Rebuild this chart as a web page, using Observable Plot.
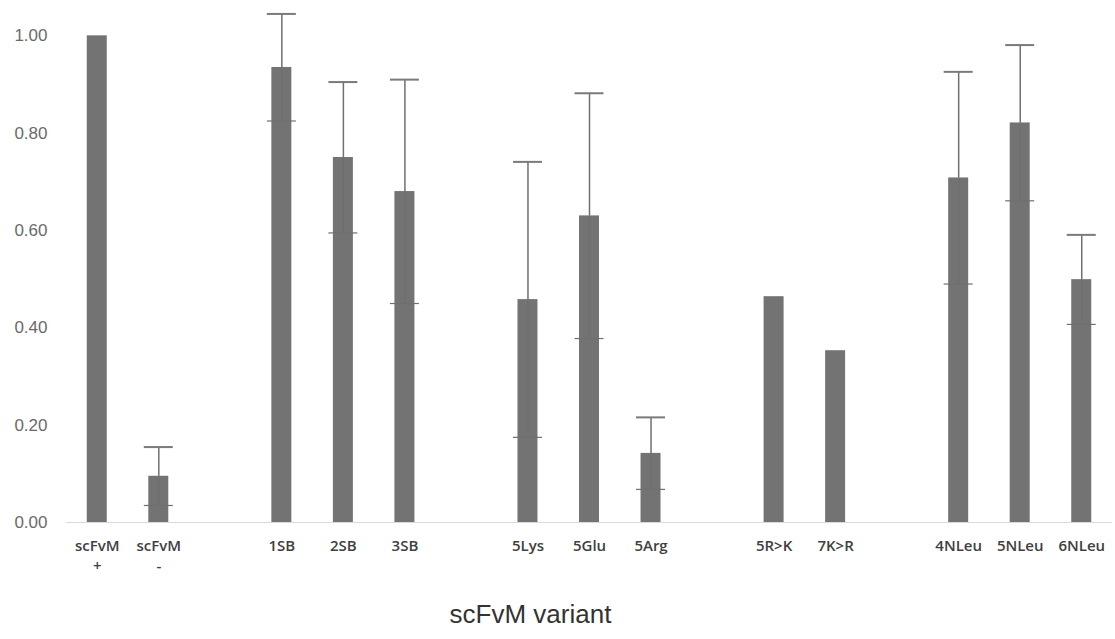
<!DOCTYPE html>
<html>
<head>
<meta charset="utf-8">
<script src="https://cdn.jsdelivr.net/npm/d3@7"></script>
<script src="https://cdn.jsdelivr.net/npm/@observablehq/plot@0.6"></script>
<style>
  html, body { margin: 0; padding: 0; background: #fff; }
</style>
</head>
<body>
<div id="chart"></div>
<script>
// Category slots (blank slots are the gaps between groups)
const slots = ["scFvM+", "scFvM-", "gap1", "1SB", "2SB", "3SB", "gap2", "5Lys", "5Glu", "5Arg", "gap3", "5R>K", "7K>R", "gap4", "4NLeu", "5NLeu", "6NLeu"];
const tickLabels = {"scFvM+": "scFvM\n+", "scFvM-": "scFvM\n-", "1SB": "1SB", "2SB": "2SB", "3SB": "3SB", "5Lys": "5Lys", "5Glu": "5Glu", "5Arg": "5Arg", "5R>K": "5R>K", "7K>R": "7K>R", "4NLeu": "4NLeu", "5NLeu": "5NLeu", "6NLeu": "6NLeu"};
const variants = ["scFvM+", "scFvM-", "1SB", "2SB", "3SB", "5Lys", "5Glu", "5Arg", "5R>K", "7K>R", "4NLeu", "5NLeu", "6NLeu"];
const means =    [1.00, 0.095, 0.935, 0.750, 0.680, 0.458, 0.630, 0.142, 0.464, 0.353, 0.708, 0.821, 0.499];
const errors =   [0.00, 0.060, 0.110, 0.155, 0.230, 0.283, 0.252, 0.074, 0.000, 0.000, 0.218, 0.160, 0.092];
const yTicks = [0, 0.2, 0.4, 0.6, 0.8, 1.0];

const data = variants.map((v, i) => ({variant: v, mean: means[i], err: errors[i]}));
const errData = data.filter(d => d.err > 0);

const chart = Plot.plot({
  width: 1115,
  height: 639,
  marginLeft: 66,
  marginRight: 3,
  marginTop: 11,
  marginBottom: 117,
  style: {fontFamily: "'Liberation Sans', Arial, sans-serif", background: "#fff"},
  x: {domain: slots, paddingInner: 0.675, paddingOuter: 0.3375, align: 0.5, round: false},
  y: {domain: [0, 1.05]},
  marks: [
    Plot.ruleY([0], {stroke: "#d9d9d9", strokeWidth: 1}),
    Plot.barY(data, {x: "variant", y: "mean", fill: "#737373"}),
    Plot.ruleX(errData, {x: "variant", y1: d => d.mean - d.err, y2: d => d.mean, stroke: "#6f6f6f", strokeWidth: 1.2}),
    Plot.ruleX(errData, {x: "variant", y1: d => d.mean, y2: d => d.mean + d.err, stroke: "#707070", strokeWidth: 1.5}),
    Plot.tickY(errData, {x: "variant", y: d => d.mean + d.err, stroke: "#7a7a7a", strokeWidth: 2, insetLeft: 24.5, insetRight: 24.5}),
    Plot.tickY(errData, {x: "variant", y: d => d.mean - d.err, stroke: "#6f6f6f", strokeWidth: 1.2, insetLeft: 24.5, insetRight: 24.5}),
    Plot.axisY({ticks: yTicks, tickFormat: d3.format(".2f"), tickSize: 0, tickPadding: 19, fontSize: 17, fill: "#6a6a6a", label: null}),
    Plot.axisX({tickFormat: d => tickLabels[d] || "", tickSize: 0, tickPadding: 15, fontSize: 15, fontWeight: 600, fontFamily: "'Open Sans', sans-serif", fill: "#404040", lineHeight: 1.3, label: null}),
    Plot.text(["scFvM variant"], {frameAnchor: "bottom", dy: 100, dx: -59, fontSize: 26, fill: "#333", fontFamily: "'Liberation Sans', Arial, sans-serif"})
  ]
});
document.getElementById("chart").appendChild(chart);
</script>
</body>
</html>
